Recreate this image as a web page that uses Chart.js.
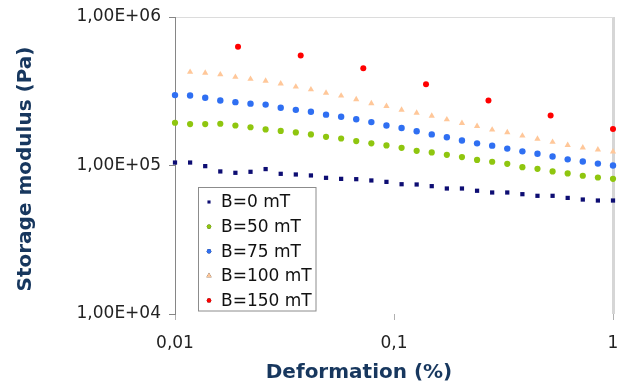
<!DOCTYPE html>
<html>
<head>
<meta charset="utf-8">
<script src="https://cdn.jsdelivr.net/npm/chart.js@4/dist/chart.umd.min.js"></script>
<style>
  html, body { margin: 0; padding: 0; background: #fff; }
  #wrap { width: 623px; height: 387px; }
</style>
</head>
<body>
<div id="wrap"><canvas id="modulusChart" width="623" height="387"></canvas></div>
<script>
// deformation (%) for the sweep series
const strain = [0.01, 0.01172, 0.01374, 0.0161, 0.01887, 0.02212, 0.02593, 0.03039, 0.03562, 0.04175,
  0.04894, 0.05736, 0.06723, 0.07881, 0.09237, 0.1083, 0.1269, 0.1487, 0.1743, 0.2043,
  0.2395, 0.2807, 0.329, 0.3857, 0.452, 0.5298, 0.621, 0.7279, 0.8532, 1];
// the 100 mT series starts one step later
const strain100 = strain.slice(1);
const strain150 = [0.0194, 0.0375, 0.0724, 0.14, 0.27, 0.519, 1];

const b0 = [104700, 104700, 99000, 91200, 89300, 90700, 94600, 87900, 87000, 85700,
  82600, 81300, 80900, 79300, 77600, 74800, 74500, 72600, 70000, 70000,
  67600, 65800, 65800, 64100, 62500, 62500, 60500, 59000, 58100, 58100];
const b50 = [194000, 190000, 190000, 191000, 186000, 181000, 175000, 171000, 167000, 162000,
  156000, 152000, 146000, 141000, 136500, 131500, 125600, 122400, 118000, 114000,
  109000, 106000, 102600, 97500, 95000, 91200, 88400, 85300, 83000, 81300];
const b75 = [298000, 296000, 286000, 274000, 267000, 261000, 257000, 245000, 237000, 230000,
  220000, 213000, 205000, 196000, 186000, 179000, 170000, 162000, 155000, 147500,
  141000, 136000, 130000, 124500, 120000, 115000, 110000, 106500, 103000, 100000];
const b100 = [426000, 420000, 410000, 394000, 382000, 371000, 356000, 339000, 325000,
  308000, 295000, 279000, 262000, 251000, 237000, 226000, 216000, 204000, 193000,
  184000, 174000, 167000, 158500, 151000, 144000, 137000, 132000, 128000, 124000];
const b150 = [631000, 551000, 451000, 353000, 274000, 217000, 176000];

const seriesLabels = ['B=0 mT', 'B=50 mT', 'B=75 mT', 'B=100 mT', 'B=150 mT'];
const yTicks = [1e4, 1e5, 1e6];
const yTickLabels = ['1,00E+04', '1,00E+05', '1,00E+06'];
const xTicks = [0.01, 0.1, 1];
const xTickLabels = ['0,01', '0,1', '1'];

const xTitle = 'Deformation (%)';
const yTitle = 'Storage modulus (Pa)';

const pairs = (xs, ys) => ys.map((y, i) => ({ x: xs[i], y: y }));

const ModulusChart = (() => {

  const titleColor = '#17375e';

  // titles and the in-plot legend box
  const decorPlugin = {
    id: 'decor',
    afterDraw: (chart) => {
      const ctx = chart.ctx;
      ctx.save();
      ctx.fillStyle = titleColor;
      ctx.font = 'bold 20px "DejaVu Sans"';
      ctx.textAlign = 'center';
      ctx.textBaseline = 'middle';
      ctx.fillText(xTitle, 359, 373);
      ctx.translate(26, 169);
      ctx.rotate(-Math.PI / 2);
      ctx.fillText(yTitle, 0, 0);
      ctx.restore();

      // legend
      ctx.save();
      ctx.fillStyle = '#fff';
      ctx.fillRect(198.5, 187.5, 117.5, 123.5);
      ctx.strokeStyle = '#8c8c8c';
      ctx.lineWidth = 1;
      ctx.strokeRect(198.5, 187.5, 117.5, 123.5);
      ctx.font = '17px "DejaVu Sans"';
      ctx.textAlign = 'left';
      ctx.textBaseline = 'middle';
      chart.data.datasets.forEach((ds, i) => {
        const y = 202 + i * 24.6;
        Chart.helpers.drawPoint(ctx, {
          pointStyle: ds.pointStyle,
          radius: ds.pointStyle === 'triangle' ? 3 : 2.2,
          rotation: 0,
          borderWidth: 0
        }, 209, y);
        ctx.fillStyle = ds.backgroundColor;
        ctx.fill();
        ctx.fillStyle = '#111';
        ctx.fillText(ds.label, 221, y + 1);
      });
      ctx.restore();
    }
  };

  let configMap = {
    type: 'scatter',
    data: {
      datasets: [
        { label: seriesLabels[0], data: pairs(strain, b0), pointStyle: 'rect', pointRadius: 3,
          backgroundColor: '#0d0d73', borderWidth: 0 },
        { label: seriesLabels[1], data: pairs(strain, b50), pointStyle: 'circle', pointRadius: 3.1,
          backgroundColor: '#8fc60f', borderWidth: 0 },
        { label: seriesLabels[2], data: pairs(strain, b75), pointStyle: 'circle', pointRadius: 3.2,
          backgroundColor: '#2f6ff2', borderWidth: 0 },
        { label: seriesLabels[3], data: pairs(strain100, b100), pointStyle: 'triangle', pointRadius: 3.6,
          backgroundColor: '#ffc799', borderWidth: 0 },
        { label: seriesLabels[4], data: pairs(strain150, b150), pointStyle: 'circle', pointRadius: 3,
          backgroundColor: '#ff0000', borderWidth: 0 }
      ]
    },
    options: {
      responsive: false,
      animation: false,
      events: [],
      clip: false,
      layout: { padding: { top: 17, right: 10, left: 0, bottom: 0 } },
      plugins: {
        legend: { display: false },
        tooltip: { enabled: false }
      },
      scales: {
        x: {
          type: 'logarithmic',
          min: 0.01,
          max: 1,
          afterBuildTicks: (axis) => { axis.ticks = xTicks.map(v => ({ value: v })); },
          afterFit: (axis) => {
            axis.height = 73;
            axis.paddingRight = 0;
            axis.paddingLeft = 0;
          },
          ticks: {
            autoSkip: false,
            maxRotation: 0,
            padding: 13,
            color: '#222',
            font: { family: 'DejaVu Sans', size: 17 },
            callback: (v) => xTickLabels[xTicks.indexOf(v)]
          },
          grid: {
            drawOnChartArea: true,
            color: (c) => (c.tick && c.tick.value === 1) ? '#d6d6d6' : 'rgba(0,0,0,0)',
            lineWidth: (c) => (c.tick && c.tick.value === 1) ? 3 : 1,
            tickColor: '#b0b0b0',
            tickWidth: 1,
            tickLength: 6
          },
          border: { display: false }
        },
        y: {
          type: 'logarithmic',
          min: 1e4,
          max: 1e6,
          afterBuildTicks: (axis) => { axis.ticks = yTicks.map(v => ({ value: v })); },
          afterFit: (axis) => {
            axis.width = 175;
            axis.paddingTop = 0;
            axis.paddingBottom = 0;
          },
          ticks: {
            padding: 8,
            color: '#222',
            font: { family: 'DejaVu Sans', size: 17 },
            callback: (v) => yTickLabels[yTicks.indexOf(v)]
          },
          grid: {
            drawOnChartArea: true,
            color: (c) => (c.tick && c.tick.value === 1e6) ? '#dcdcdc' : 'rgba(0,0,0,0)',
            tickColor: '#868686',
            tickLength: 6
          },
          border: { display: true, color: '#868686', width: 1 }
        }
      }
    },
    plugins: [decorPlugin]
  };

  let stateMap = {
    chart: undefined
  };

  const _init = (canvasId) => {
    let ctx = document.getElementById(canvasId).getContext('2d');
    stateMap.chart = new Chart(ctx, configMap);
  };

  return {
    init: _init
  };

})();

ModulusChart.init('modulusChart');
</script>
</body>
</html>
